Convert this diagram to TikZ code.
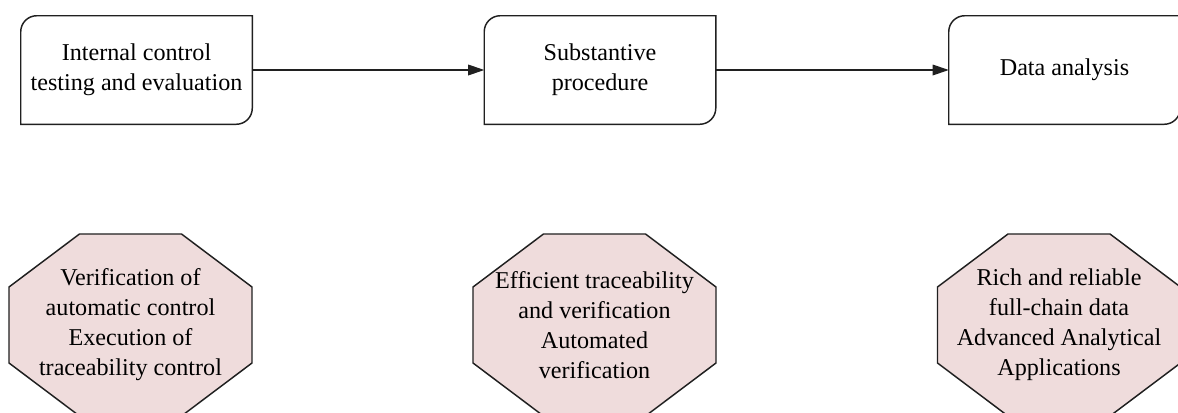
\documentclass[tikz,border=0pt]{standalone}
\usepackage{fontspec}
\setmainfont{Liberation Serif}
\usetikzlibrary{arrows.meta,calc,backgrounds}
\definecolor{octfill}{HTML}{EFDCDC}
\definecolor{linec}{HTML}{202020}
\tikzset{
  x=0.75pt,y=0.75pt,
  lbl/.style={align=center,inner sep=0pt,font=\fontsize{18.1}{22.5}\selectfont},
  boxline/.style={draw=linec,line width=1.1pt},
  octline/.style={draw=linec,line width=1.1pt,fill=octfill},
  flow/.style={draw=linec,line width=0.9pt,-{Triangle[length=12pt,width=8pt]}},
}
\newcommand{\stepshape}[1]{%
  \draw[boxline] (#1.south west) -- ($(#1.north west)+(0,-16)$)
    arc[start angle=180,end angle=90,radius=16] -- (#1.north east)
    -- ($(#1.south east)+(0,16)$)
    arc[start angle=0,end angle=-90,radius=16] -- cycle;}
\newcommand{\octshape}[1]{%
  \draw[octline] ($(#1)+(-51,91)$) -- ($(#1)+(51,91)$) -- ($(#1)+(121.5,38)$)
    -- ($(#1)+(121.5,-38)$) -- ($(#1)+(51,-91)$) -- ($(#1)+(-51,-91)$)
    -- ($(#1)+(-121.5,-38)$) -- ($(#1)+(-121.5,38)$) -- cycle;}
\begin{document}
\begin{tikzpicture}
\useasboundingbox (0,0) rectangle (1178,412);
\clip (0,0) rectangle (1178,412);
\fill[white] (0,0) rectangle (1178,412);
% step boxes
\node[lbl,minimum width=173.25pt,minimum height=81pt] (b1) at (136.5,342) {Internal control\\testing and evaluation};
\node[lbl,minimum width=173.25pt,minimum height=81pt] (b2) at (600,342) {Substantive\\procedure};
\node[lbl,minimum width=173.25pt,minimum height=81pt] (b3) at (1064.5,342) {Data analysis};
\stepshape{b1}
\stepshape{b2}
\stepshape{b3}
\draw[flow] (b1.east) -- (b2.west);
\draw[flow] (b2.east) -- (b3.west);
% octagons
\coordinate (c1) at (130.5,87);
\coordinate (c2) at (594.5,87);
\coordinate (c3) at (1059,87);
\octshape{c1}
\octshape{c2}
\octshape{c3}
\node[lbl] (o1) at (c1) {Verification of\\automatic control\\Execution of\\traceability control};
\node[lbl] (o2) at (c2) {Efficient traceability\\and verification\\Automated\\verification};
\node[lbl] (o3) at (c3) {Rich and reliable\\full-chain data\\Advanced Analytical\\Applications};
\end{tikzpicture}
\end{document}
